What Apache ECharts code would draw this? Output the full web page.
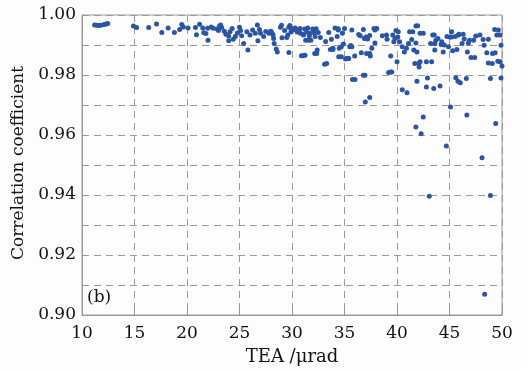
<!DOCTYPE html>
<html><head><meta charset="utf-8">
<script src="https://cdn.jsdelivr.net/npm/echarts@6/dist/echarts.min.js"></script>
<style>html,body{margin:0;padding:0;background:#fdfdfd}#c{width:527px;height:370px}</style>
</head><body><div id="c"></div>
<script>
const teaX = [11.2,11.4,11.6,11.8,12.1,12.3,12.45,14.9,15.2,16.35,17.1,17.6,18.2,18.8,19.3,19.5,19.65,20.1,20.8,20.9,21.2,21.5,21.6,21.8,22.0,21.97,22.3,22.5,22.86,23.1,23.2,23.0,23.3,23.55,23.7,23.97,23.97,24.1,24.3,24.4,24.6,24.8,25.0,25.1,25.2,25.4,25.7,25.8,26.0,26.25,26.5,26.7,26.75,26.9,27.0,27.3,27.5,27.8,27.9,28.0,28.1,28.2,28.25,28.3,28.5,28.6,28.9,29.0,29.05,29.3,29.5,29.6,29.7,29.7,29.8,29.9,30.1,30.3,30.5,30.6,30.8,30.9,31.05,31.1,31.2,31.3,31.4,31.5,31.65,31.7,31.8,31.97,32.06,32.16,32.2,32.3,32.4,32.5,32.7,33.1,33.2,33.5,33.65,33.75,33.9,34.1,34.3,34.4,34.45,34.5,34.7,34.8,34.9,35.0,35.1,35.2,35.4,35.5,35.6,35.7,35.76,35.97,36.35,36.5,36.6,36.8,36.8,36.9,36.98,37.1,37.2,37.4,37.4,37.46,37.6,37.8,37.9,37.9,38.6,39.05,39.2,39.4,39.4,39.6,39.7,39.8,39.9,40.0,40.25,40.5,40.5,40.7,40.9,40.95,41.2,41.4,41.6,41.7,41.8,41.8,41.9,42.1,42.1,42.2,42.3,42.5,42.8,42.8,42.9,43.07,43.2,43.3,43.4,43.5,43.6,43.7,44.1,44.2,44.4,44.7,44.76,44.9,45.1,45.2,45.3,45.55,45.6,45.8,45.9,46.03,46.2,46.4,46.6,46.65,46.7,46.9,47.05,47.5,48.1,48.2,48.3,48.35,48.55,48.7,48.9,48.9,49.1,49.3,49.35,49.4,49.5,49.6,49.9,49.9,50.0,
40.12,40.07,41.1,41.5,41.97,42.5,41.8,41.9,42.2,43.55,43.6,43.9,44.26,44.5,45.05,45.2,45.7,45.84,46.3,46.8,47.3,47.4,47.9,48.7,49.07,49.65,49.8,49.8,
29.97,30.76,31.08,31.24,31.55,32.35,33.3,33.9,34.4,34.7,35.37,35.7,36.0,36.95,37.05,37.4,38.07,39.0,39.5];
const corr = [.9967,.9966,.9965,.9966,.9968,.9970,.9972,.9963,.9958,.9958,.9970,.9942,.9957,.9942,.9952,.9968,.9960,.9957,.9958,.9934,.9969,.9957,.9941,.9938,.9916,.9956,.9960,.9956,.9953,.9963,.9967,.9948,.9958,.9946,.9936,.9930,.9914,.9944,.9955,.9919,.9928,.9940,.9959,.9948,.9931,.9905,.9944,.9883,.9933,.9950,.9939,.9967,.9914,.9952,.9939,.9928,.9945,.9939,.9944,.9946,.9939,.9933,.9922,.9905,.9887,.9877,.9959,.9966,.9924,.9948,.9925,.9933,.9959,.9875,.9965,.9943,.9950,.9957,.9943,.9950,.9939,.9864,.9864,.9935,.9953,.9916,.9943,.9957,.9930,.9939,.9916,.9953,.9942,.9872,.9928,.9954,.9883,.9942,.9925,.9836,.9912,.9942,.9885,.9919,.9889,.9957,.9928,.9954,.9861,.9889,.9894,.9939,.9903,.9955,.9853,.9855,.9855,.9894,.9898,.9950,.9785,.9863,.9935,.9931,.9874,.9799,.9952,.9922,.9710,.9872,.9920,.9725,.9932,.9863,.9889,.9955,.9950,.9907,.9931,.9919,.9808,.9810,.9863,.9933,.9911,.9922,.9948,.9844,.9911,.9894,.9751,.9877,.9889,.9741,.9944,.9918,.9883,.9838,.9963,.9627,.9779,.9827,.9840,.9939,.9604,.9660,.9844,.9760,.9790,.9396,.9905,.9844,.9933,.9755,.9883,.9916,.9763,.9902,.9877,.9563,.9928,.9894,.9693,.9944,.9881,.9928,.9791,.9779,.9936,.9774,.9905,.9920,.9788,.9667,.9877,.9916,.9858,.9930,.9524,.9918,.9899,.9069,.9874,.9840,.9788,.9398,.9872,.9952,.9874,.9638,.9933,.9846,.9790,.9899,.9830,
.9944,.9927,.9905,.9944,.9964,.9939,.9907,.9877,.9844,.9933,.9905,.9922,.9911,.9900,.9927,.9927,.9885,.9933,.9936,.9907,.9916,.9858,.9933,.9919,.9838,.9950,.9933,.9844,
.9955,.9955,.9933,.9866,.9916,.9872,.9838,.9885,.9950,.9861,.9855,.9894,.9785,.9799,.9927,.9872,.9955,.9933,.9810];
const xTicks = [10,15,20,25,30,35,40,45,50];
const yTickLabels = ['0.90','0.92','0.94','0.96','0.98','1.00'];
const xTitle = 'TEA /μrad';
const yTitle = 'Correlation coefficient';
const panelLabel = '(b)';

const pts = teaX.map((x,i)=>[x,corr[i]]);
const font = '"DejaVu Serif", serif';
const axisCol = '#9a9494';
const split = {show:true, lineStyle:{color:'#9e9898', type:[7,5], width:1}};
const chart = echarts.init(document.getElementById('c'), null, {renderer:'canvas'});
chart.setOption({
  animation:false,
  backgroundColor:'#fdfdfd',
  grid:{left:82, right:25, top:15, bottom:55, show:true, borderColor:'#a09a9a', borderWidth:1},
  xAxis:{
    type:'value', min:xTicks[0], max:xTicks[xTicks.length-1], interval:5,
    axisLine:{show:true, lineStyle:{color:axisCol}},
    axisTick:{show:true, inside:true, length:5, lineStyle:{color:axisCol}},
    axisLabel:{color:'#111', fontFamily:font, fontSize:17, margin:10},
    splitLine:split
  },
  yAxis:{
    type:'value', min:0.90, max:1.00, interval:0.01,
    axisLine:{show:true, lineStyle:{color:axisCol}},
    axisTick:{show:true, inside:true, length:5, lineStyle:{color:axisCol}},
    axisLabel:{color:'#111', fontFamily:font, fontSize:17, margin:6,
      formatter:function(v){const k=Math.round(v*100); return (k%2===0)? yTickLabels[(k-90)/2] : '';}},
    splitLine:split
  },
  graphic:[
    {type:'text', left:87, top:289, style:{text:panelLabel, font:'17px "DejaVu Serif", serif', fill:'#111'}},
    {type:'text', x:292, y:357, style:{text:xTitle, font:'18px "DejaVu Serif", serif', fill:'#111', textAlign:'center', textVerticalAlign:'middle'}},
    {type:'text', x:19, y:163, rotation:Math.PI/2, style:{text:yTitle, font:'17px "DejaVu Serif", serif', fill:'#111', textAlign:'center', textVerticalAlign:'middle'}}
  ],
  series:[{type:'scatter', data:pts, symbol:'circle', symbolSize:5, z:5,
    itemStyle:{color:'#2a55a6', opacity:1}}]
});
</script></body></html>
